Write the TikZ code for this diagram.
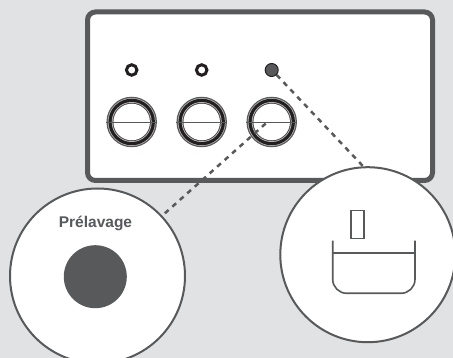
\documentclass[tikz,border=0pt]{standalone}
\usepackage{fontspec}
\setmainfont{Liberation Sans}
\usetikzlibrary{positioning, calc}
\definecolor{wmBack}{HTML}{E1E2E3}
\definecolor{wmInk}{HTML}{58595B}
\definecolor{wmDark}{HTML}{231F20}
\tikzset{
    wmPanel/.style={
        draw=wmInk,
        line width=5pt,
        rounded corners=8pt,
        fill=white
    },
    wmLens/.style={
        circle,
        draw=wmInk,
        line width=2pt,
        fill=white,
        minimum size=175pt,
        inner sep=0pt
    },
    wmLed/.style={
        circle,
        draw=wmDark,
        line width=3pt,
        fill=white,
        minimum size=10.5pt,
        inner sep=0pt
    },
    wmLedOn/.style={wmLed, fill=wmInk, line width=1pt, minimum size=13pt},
    % Button rings
    wmRing/.style={circle, inner sep=0pt, minimum size=#1},
    wmButton/.style={wmRing=50.5pt, fill=wmInk},
    wmLeader/.style={draw=wmInk, line width=2.5pt, dash pattern=on 5pt off 5pt},
    wmIcon/.style={draw=wmInk, line width=1.6pt}
}
\begin{document}
\begin{tikzpicture}[x=1pt, y=-1pt]
    \useasboundingbox (0, 0) rectangle (453, 358);
    \fill[wmBack] (0, 0) rectangle (453, 358);

    % Panel
    \draw[wmPanel] (87.5, 12) rectangle (432.5, 180.5);

    % Lamps
    \node[wmLed] (ledA) at (131.7, 70) {};
    \node[wmLed] (ledB) at (201.7, 70) {};
    \node[wmLedOn] (ledC) at (271.7, 70) {};

    % Buttons
    \foreach \name/\xpos in {btnA/131.7, btnB/201.7, btnC/271.7} {
        \node[wmButton] (\name) at (\xpos, 122) {};
        \node[wmRing=48pt, fill=wmInk!45] at (\name) {};
        \node[wmRing=46.5pt, fill=wmDark] at (\name) {};
        \node[wmRing=40pt, fill=wmInk!35] at (\name) {};
        \node[wmRing=38.5pt, fill=wmDark!80] at (\name) {};
        \node[wmRing=36.5pt, fill=white] at (\name) {};
        \draw[wmInk, line width=0.9pt] (\name.west) -- (\name.east);
    }
    \coordinate (btnMark) at ($(btnC) + (-6, 1.5)$);

    % Lenses
    \node[wmLens] (lensWash) at (97.5, 276) {};
    \node[wmLens] (lensTub) at (367.8, 254.7) {};

    % Connections
    \draw[wmLeader] (ledC.-45) -- (lensTub.93);
    \draw[wmLeader] (btnMark) -- (lensWash.43.5);

    % Left lens content
    \node[font=\fontsize{15.5}{16}\selectfont\bfseries, text=wmInk] (washText) at (95.5, 223) {Prélavage};
    \node[circle, fill=wmInk, minimum size=63pt, inner sep=0pt] (washDot) at (95.3, 276.7) {};

    % Right lens content
    \node[draw=wmInk, line width=1.8pt, minimum width=13pt, minimum height=28pt, inner sep=0pt] (tubSlot) at (357.5, 224.5) {};
    \draw[wmIcon, rounded corners=14pt] (332.7, 240.7) -- (332.7, 293.3) -- (415, 293.3) -- (415, 240.7);
    \draw[wmIcon, line width=1.9pt] (332.7, 253) -- (415, 253);
\end{tikzpicture}
\end{document}
